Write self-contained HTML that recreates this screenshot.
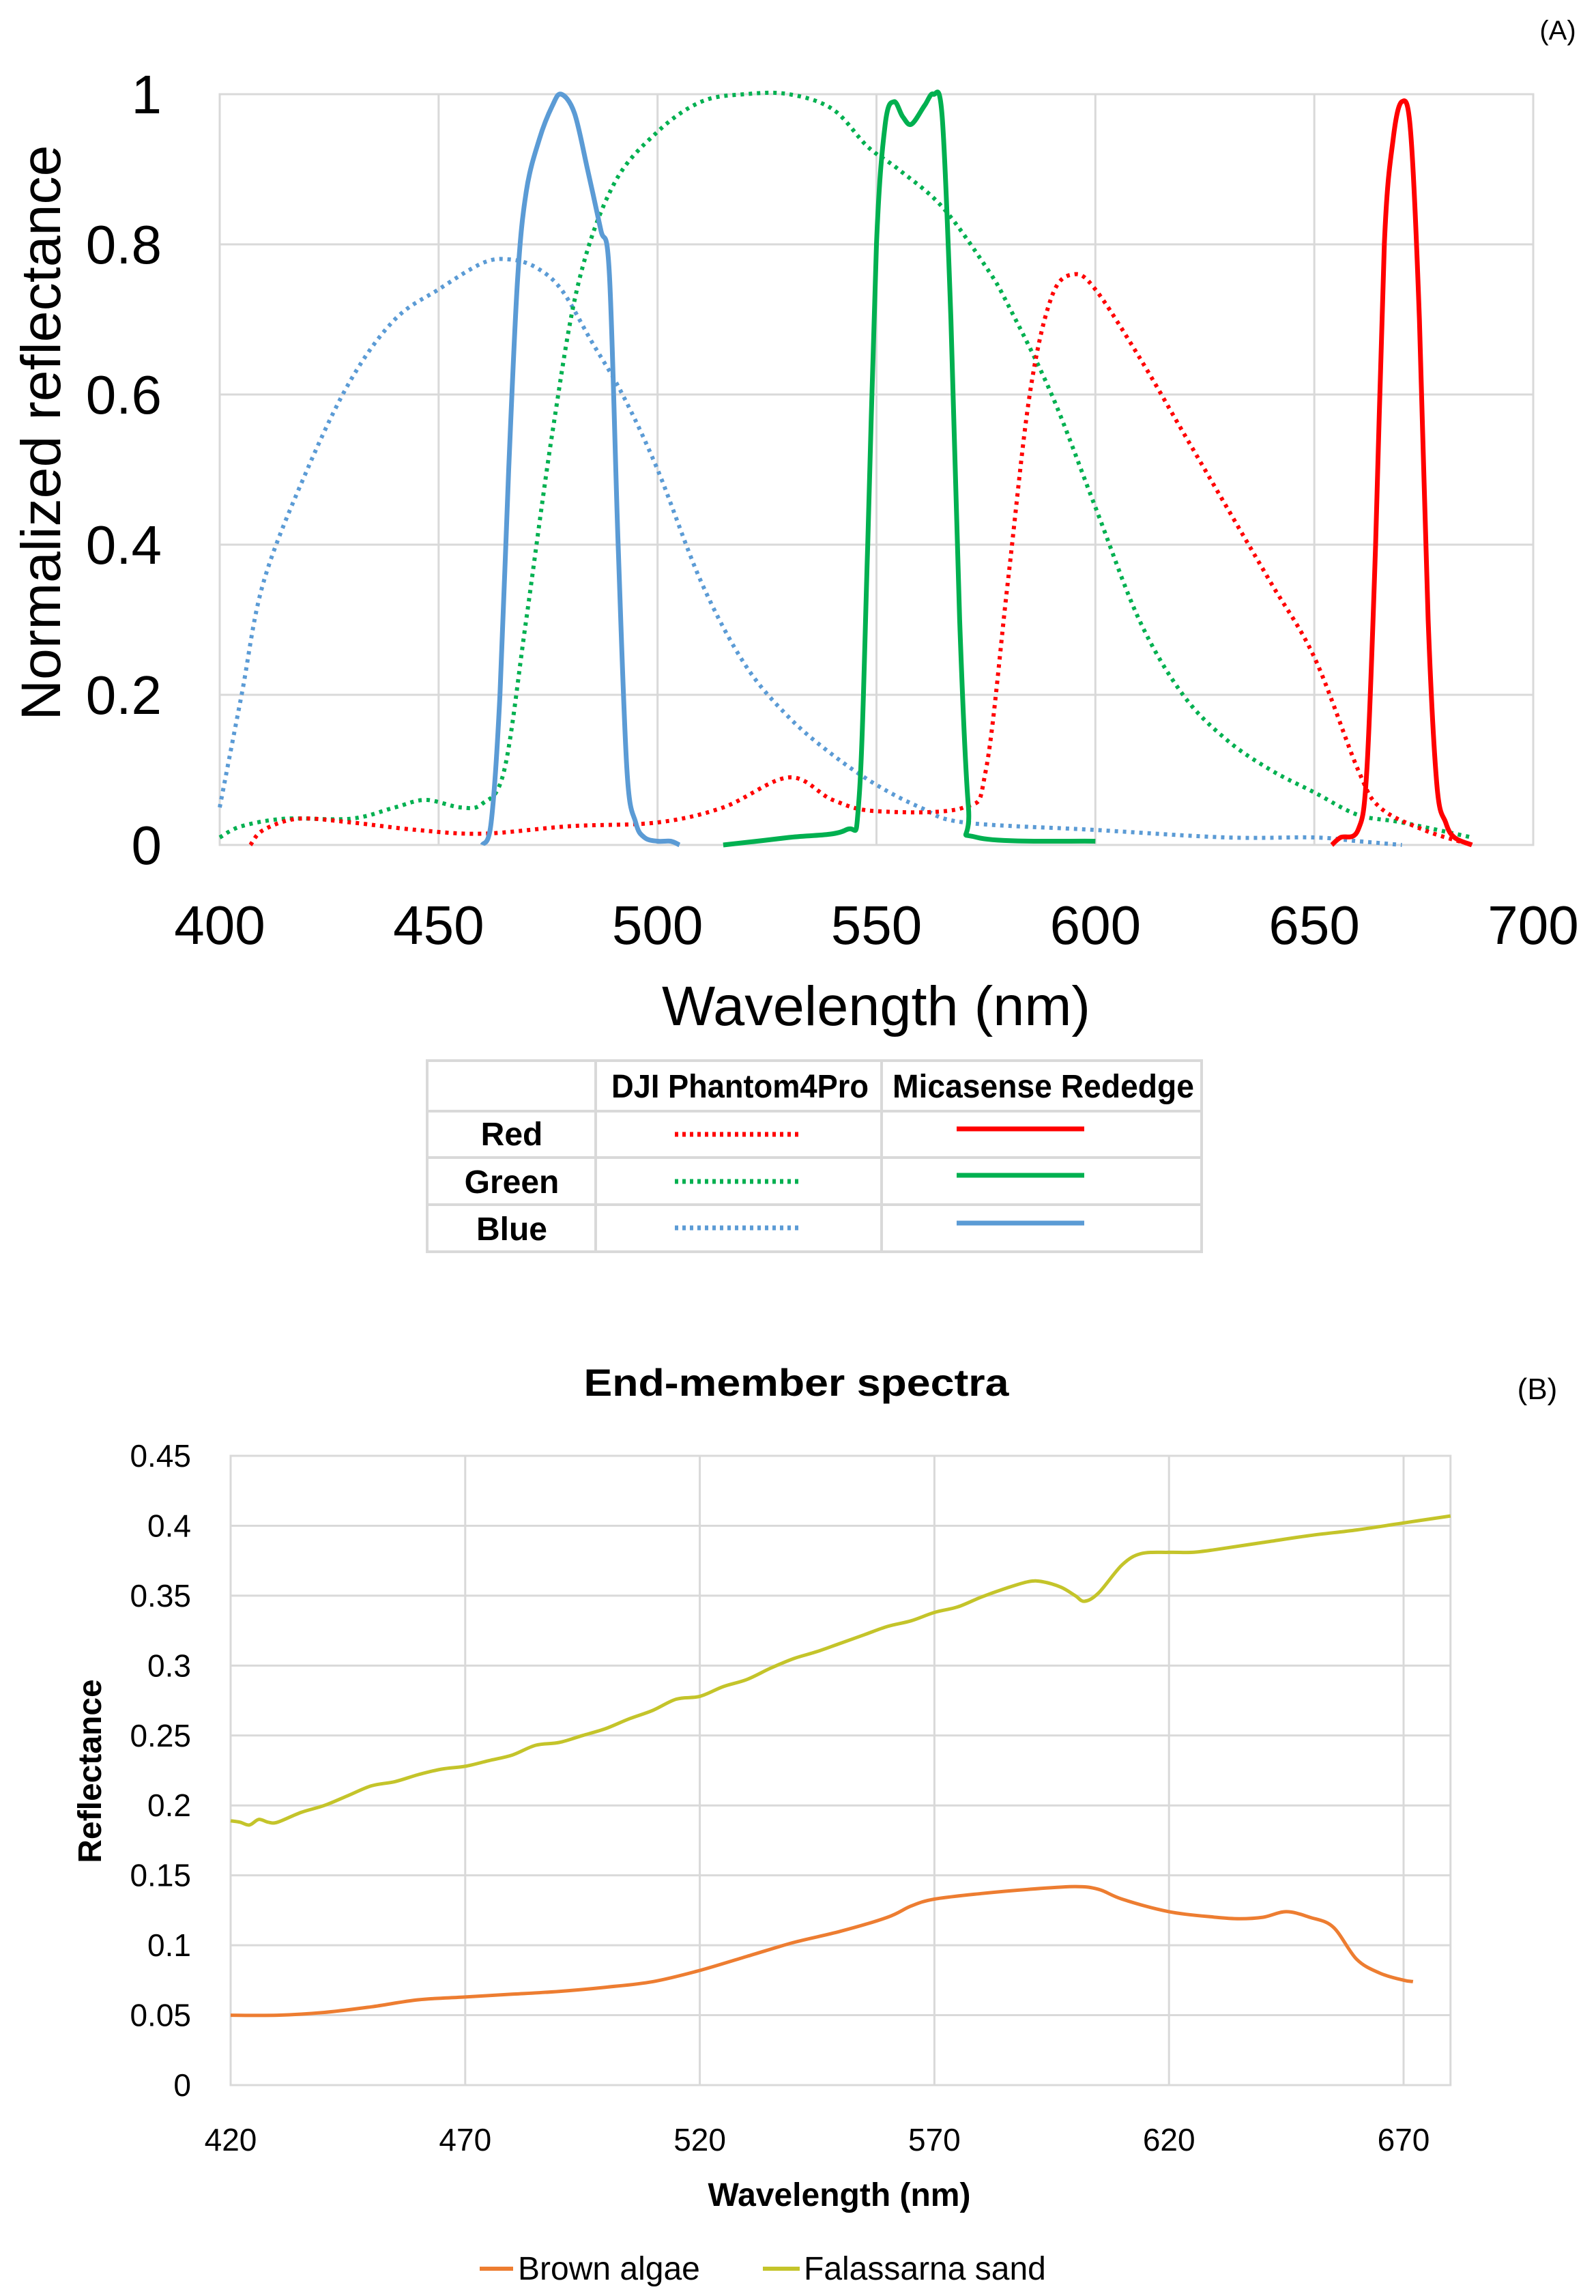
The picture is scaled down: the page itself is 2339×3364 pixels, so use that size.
<!DOCTYPE html>
<html><head><meta charset="utf-8"><style>
html,body{margin:0;padding:0;background:#fff;}
svg{display:block;}
text{font-family:"Liberation Sans",sans-serif;}
</style></head><body>
<svg id="s" width="2339" height="3364" viewBox="0 0 2339 3364" xmlns="http://www.w3.org/2000/svg">
<rect width="2339" height="3364" fill="#fff"/>
<g id="gA"></g>
<text x="2283" y="58" font-size="40" text-anchor="middle">(A)</text>
<text x="1284" y="1502" font-size="82" text-anchor="middle" textLength="628" lengthAdjust="spacingAndGlyphs">Wavelength (nm)</text>
<text transform="translate(88,634) rotate(-90)" font-size="82" text-anchor="middle" textLength="843" lengthAdjust="spacingAndGlyphs">Normalized reflectance</text>

<g stroke="#d9d9d9" stroke-width="4" fill="none">
<rect x="626" y="1554" width="1135" height="280"/>
<line x1="873" y1="1554" x2="873" y2="1834"/>
<line x1="1292" y1="1554" x2="1292" y2="1834"/>
<line x1="626" y1="1628" x2="1761" y2="1628"/>
<line x1="626" y1="1696" x2="1761" y2="1696"/>
<line x1="626" y1="1765" x2="1761" y2="1765"/>
</g>
<g font-size="48" font-weight="bold">
<text x="896" y="1608" textLength="377" lengthAdjust="spacingAndGlyphs">DJI Phantom4Pro</text>
<text x="1308" y="1608" textLength="442" lengthAdjust="spacingAndGlyphs">Micasense Rededge</text>
<text x="750" y="1678" text-anchor="middle">Red</text>
<text x="750" y="1748" text-anchor="middle">Green</text>
<text x="750" y="1817" text-anchor="middle">Blue</text>
</g>
<g stroke-width="7" fill="none">
<line x1="989" y1="1662" x2="1176" y2="1662" stroke="#ff0000" stroke-dasharray="5 6"/>
<line x1="989" y1="1731" x2="1176" y2="1731" stroke="#00b050" stroke-dasharray="5 6"/>
<line x1="989" y1="1799" x2="1176" y2="1799" stroke="#5b9bd5" stroke-dasharray="5 6"/>
<line x1="1402" y1="1654" x2="1589" y2="1654" stroke="#ff0000"/>
<line x1="1402" y1="1722" x2="1589" y2="1722" stroke="#00b050"/>
<line x1="1402" y1="1792" x2="1589" y2="1792" stroke="#5b9bd5"/>
</g>

<g id="gB"></g>
<text x="1167" y="2045" font-size="56" font-weight="bold" text-anchor="middle" textLength="623" lengthAdjust="spacingAndGlyphs">End-member spectra</text>
<text x="2253" y="2050" font-size="44" text-anchor="middle">(B)</text>
<text x="1230" y="3232" font-size="48" font-weight="bold" text-anchor="middle">Wavelength (nm)</text>
<text transform="translate(148,2595) rotate(-90)" font-size="48" font-weight="bold" text-anchor="middle">Reflectance</text>
<line x1="703" y1="3324" x2="752" y2="3324" stroke="#ed7d31" stroke-width="6"/>
<text x="759" y="3340" font-size="48">Brown algae</text>
<line x1="1118" y1="3324" x2="1172" y2="3324" stroke="#c4c42a" stroke-width="6"/>
<text x="1178" y="3340" font-size="48">Falassarna sand</text>
</svg>
<script>
var NS="http://www.w3.org/2000/svg";
function el(p,t,a,txt){var e=document.createElementNS(NS,t);for(var k in a)e.setAttribute(k,a[k]);if(txt!==undefined)e.textContent=txt;p.appendChild(e);return e;}
function smooth(P){var d="M"+P[0][0].toFixed(1)+","+P[0][1].toFixed(1);
 for(var i=0;i<P.length-1;i++){var p0=P[i-1]||P[i],p1=P[i],p2=P[i+1],p3=P[i+2]||P[i+1];
  var c1x=p1[0]+(p2[0]-p0[0])/6,c1y=p1[1]+(p2[1]-p0[1])/6,c2x=p2[0]-(p3[0]-p1[0])/6,c2y=p2[1]-(p3[1]-p1[1])/6;
  d+=" C"+c1x.toFixed(1)+","+c1y.toFixed(1)+" "+c2x.toFixed(1)+","+c2y.toFixed(1)+" "+p2[0].toFixed(1)+","+p2[1].toFixed(1);}
 return d;}
var gA=document.getElementById("gA");
var AL=322,AR=2247,AT=138,AB=1238;
function ax(l){return AL+(l-400)*(AR-AL)/300;}
function ay(r){return AB-r*(AB-AT);}
for(var i=0;i<=5;i++){var y=ay(i*0.2);el(gA,"line",{x1:AL,x2:AR,y1:y,y2:y,stroke:"#d9d9d9","stroke-width":3});
 el(gA,"text",{x:237,y:y+28,"font-size":80,"text-anchor":"end"},i==0?"0":i==5?"1":(i*0.2).toFixed(1));}
for(var i=0;i<=6;i++){var x=ax(400+i*50);el(gA,"line",{x1:x,x2:x,y1:AT,y2:AB,stroke:"#d9d9d9","stroke-width":3});
 el(gA,"text",{x:x,y:1383,"font-size":80,"text-anchor":"middle"},String(400+i*50));}
el(gA,"rect",{x:AL,y:AT,width:AR-AL,height:AB-AT,fill:"none",stroke:"#d9d9d9","stroke-width":3});
function polyA(d,c,dash){var p=[];for(var i=0;i<d.length;i+=2)p.push([ax(d[i]),ay(d[i+1])]);
 var a={d:smooth(p),fill:"none",stroke:c,"stroke-width":dash?6:7,"stroke-linejoin":"round"};if(dash)a["stroke-dasharray"]="5 7";el(gA,"path",a);}
polyA([400,0.05,405,0.2,410,0.35,420,0.5,430,0.62,440,0.7,450,0.74,460,0.775,466,0.78,472,0.77,478,0.74,485,0.67,492,0.6,500,0.5,510,0.35,520,0.24,530,0.17,540,0.12,550,0.08,560,0.05,570,0.03,600,0.02,630,0.01,650,0.01,660,0.005,670,0],"#5b9bd5",1);
polyA([400,0.01,405,0.025,415,0.035,430,0.035,440,0.05,447,0.06,455,0.05,460,0.055,465,0.1,470,0.3,476,0.55,482,0.75,490,0.88,500,0.95,510,0.99,520,1.0,530,1.0,540,0.98,548,0.93,555,0.9,565,0.85,575,0.77,580,0.72,590,0.6,600,0.45,610,0.3,620,0.2,630,0.14,640,0.1,650,0.07,660,0.04,670,0.03,686,0.01],"#00b050",1);
polyA([407,0,410,0.02,418,0.035,430,0.03,445,0.02,460,0.015,480,0.025,500,0.03,515,0.05,530,0.09,540,0.06,550,0.045,570,0.05,575,0.1,580,0.35,585,0.6,590,0.73,595,0.76,600,0.74,610,0.65,620,0.55,630,0.45,640,0.35,650,0.25,660,0.1,665,0.05,675,0.02,686,0],"#ff0000",1);
polyA([460,0,462,0.03,464,0.2,466,0.5,468,0.75,470,0.87,473,0.94,476,0.985,478,1.0,481,0.975,484,0.9,487,0.82,489,0.76,491,0.4,493,0.1,495,0.03,497,0.01,500,0.005,503,0.005,505,0],"#5b9bd5",0);
polyA([515,0,530,0.01,543,0.02,546,0.06,548,0.4,550,0.8,552,0.96,554,0.99,556,0.97,558,0.96,561,0.985,563,1.0,565,0.97,567,0.7,569,0.3,571,0.05,573,0.01,600,0.005],"#00b050",0);
polyA([654,0,656,0.01,660,0.02,662,0.1,664,0.4,666,0.8,668,0.94,670,0.99,672,0.95,674,0.7,676,0.3,678,0.08,680,0.03,682,0.01,686,0],"#ff0000",0);
var gB=document.getElementById("gB");
var BL=338,BT=2133,BB=3055;
function bx(l){return BL+(l-420)*(2057-338)/250;}
function by(r){return BB-r*(BB-BT)/0.45;}
var BR=bx(680);
for(var i=0;i<=9;i++){var y=by(i*0.05);el(gB,"line",{x1:BL,x2:BR,y1:y,y2:y,stroke:"#d9d9d9","stroke-width":3});
 var s=i==0?"0":(i*0.05).toFixed(2).replace(/0$/,"");el(gB,"text",{x:280,y:y+16,"font-size":46,"text-anchor":"end"},s);}
for(var i=0;i<=5;i++){var x=bx(420+i*50);el(gB,"line",{x1:x,x2:x,y1:BT,y2:BB,stroke:"#d9d9d9","stroke-width":3});
 el(gB,"text",{x:x,y:3151,"font-size":46,"text-anchor":"middle"},String(420+i*50));}
el(gB,"rect",{x:BL,y:BT,width:BR-BL,height:BB-BT,fill:"none",stroke:"#d9d9d9","stroke-width":3});
function polyB(d,c){var p=[];for(var i=0;i<d.length;i+=2)p.push([bx(d[i]),by(d[i+1])]);
 el(gB,"path",{d:smooth(p),fill:"none",stroke:c,"stroke-width":5,"stroke-linejoin":"round"});}
polyB([420,0.05,430,0.05,440,0.052,450,0.056,460,0.061,470,0.063,480,0.065,490,0.067,500,0.07,510,0.074,520,0.082,530,0.092,540,0.102,550,0.11,560,0.12,565,0.128,570,0.133,580,0.137,590,0.14,600,0.142,605,0.14,610,0.133,620,0.124,630,0.12,635,0.119,640,0.12,645,0.124,650,0.12,655,0.113,660,0.09,665,0.08,670,0.075,672,0.074],"#ed7d31");
polyB([420,0.189,422,0.188,424,0.186,426,0.19,428,0.188,430,0.188,435,0.195,440,0.2,445,0.207,450,0.214,455,0.217,460,0.222,465,0.226,470,0.228,475,0.232,480,0.236,485,0.243,490,0.245,495,0.25,500,0.255,505,0.262,510,0.268,515,0.276,520,0.278,525,0.285,530,0.29,535,0.298,540,0.305,545,0.31,550,0.316,555,0.322,560,0.328,565,0.332,570,0.338,575,0.342,580,0.349,585,0.355,590,0.36,593,0.36,597,0.356,600,0.35,602,0.346,605,0.352,610,0.372,614,0.38,620,0.381,625,0.381,630,0.383,640,0.388,650,0.393,660,0.397,670,0.402,680,0.407],"#c4c42a");
</script>
</body></html>
